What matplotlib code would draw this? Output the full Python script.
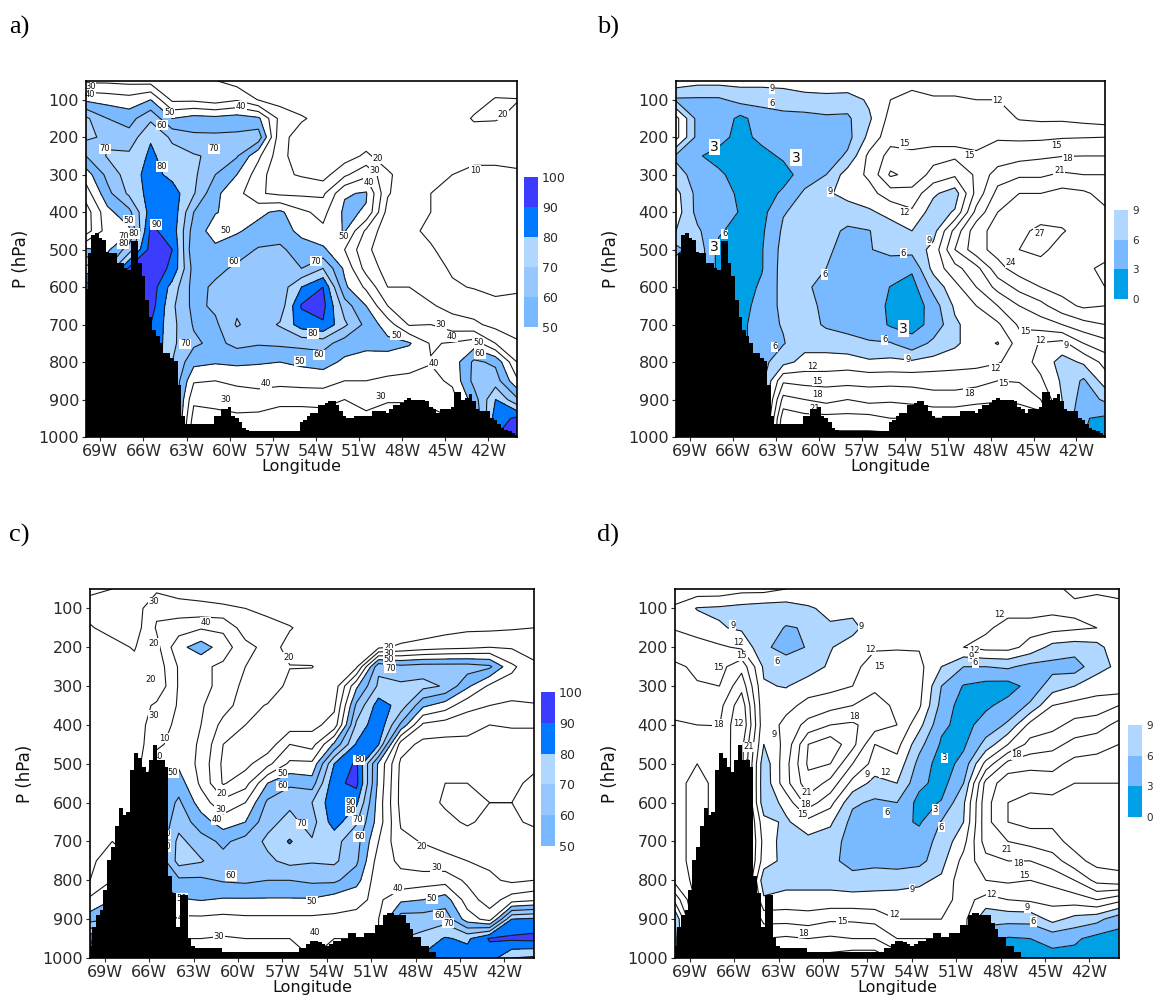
import numpy as np
import matplotlib
matplotlib.use("Agg")
import matplotlib.pyplot as plt

LON = [-70, -68.5, -67, -65.5, -64, -62.5, -61, -59.5, -58, -56.5, -55, -53.5, -52, -50.5, -49, -47.5, -46, -44.5, -43, -41.5, -40]
PRES = [50, 100, 150, 200, 250, 300, 350, 400, 450, 500, 550, 600, 650, 700, 750, 800, 850, 900, 950, 1000]

# one inner list per longitude, top of atmosphere to surface
RH_A = [
 [28,48,72,72,60,45,35,25,25,52,75,95,95,95,95,95,95,95,95,95],
 [28,46,60,68,71,63,57,47,45,48,60,90,95,95,95,95,95,95,95,95],
 [27,44,56,64,72,75,72,57,48,65,92,95,95,95,95,95,95,95,95,95],
 [26,50,68,79,82,84,84,85,92,94,96,96,95,90,90,90,90,90,90,90],
 [25,28,50,68,74,77,85,87,86,90,88,76,72,73,72,70,70,70,70,70],
 [22,28,54,62,71,72,71,60,55,52,56,56,57,59,62,53,41,32,26,20],
 [20.5,25,53,62,68,60,52,50.5,46,52,57,62,62,58,57,51,40,33,27,22],
 [16,29,55,62,61,50,44,47,49,55,62,63,68,71,63,52,42,35,28,22],
 [14,19.5,52,66,42,35,31,48,53,61,63,63,65,65,61,51,43,36,27,22],
 [14,16,27,23,24,22,28,52,55,62,63,64,64,71,62,50,43,33,25,20],
 [14,15,21,16,13,19,28,42,47,55,60,80,91,85,63,52,44,33,25,20],
 [14,14,17,14,13,16,28,37,42,52,70,90,93,89,64,54,44,34,25,20],
 [14,14,14,14,15,28,49,52,51,40,48,52,65,72,55,48,40,30,25,20],
 [14,14,14,14,22,38,51,49,28,22,26,38,50,57,52,47,40,33,28,22],
 [14,14,14,14,14,22,21,16,13,14,16,20,30,45,53,46,38,31,25,20],
 [12,12,12,12,12,13,13,12,11,12,13,20,25,29,51,43,38,31,25,20],
 [12,12,12,12,12,11,10,10,9,10.5,13,16,21,30,39,40.5,37,34,25,20],
 [12,12,12,12,11,10,9,8,7,8,9,11,17,24,41,44,42,36,30,25],
 [12,14,21.5,13,11,9,7,6,6,7,8,9.5,15,22,45,62,63,55,50,45],
 [12,21,21,13,11,9,7,6,6,7,8,8,12,17,30,58,65,80,85,90],
 [12,20.5,17,13,11,9.5,7,6,6,7,8,9.5,11,13,22,30,42,62,92,95],
]
DD_B = [
 [11,5.5,13,13,5.5,7,10,10.5,9,5,8,8,8,8,8,8,8,8,8,8],
 [10,5.5,5,5,3.3,5,5,5,6.5,8,8,8,8,8,8,8,8,8,8,8],
 [10,5.5,5,4,2,3.5,4,4.5,3.5,2,2,2,2,2,2,2,2,2,2,2],
 [10,7,2.2,2,1.5,1.8,2.6,2.8,1.5,1,1.5,1.5,1.5,2,2,2,2,2,2,2],
 [10,7,4.5,3.8,2,1.2,1.3,2,2.5,2.8,2.8,3.5,4.5,5,5,5,5,5,5,5],
 [10,7.5,5,4,3.5,1.7,3.6,5.8,6.5,7,7.2,7,6.6,6.2,5.8,8,14.5,19,23,25],
 [10.5,8,5,4.5,3.6,4.5,6.5,7,7.5,8,8,6.5,7,7.5,8,10,14,18,22,25],
 [11,8,5.5,5,4.3,6,8.5,7.5,7,6.5,6,5,5.3,5.5,8,10,14,17,22,25],
 [11.5,7.5,5.5,5,6.5,10.5,10,7.5,5.5,5,5,4.8,5,5,7,10.5,14,18,22,25],
 [11.5,9.5,8.5,9.8,12.8,12.5,11,8.5,5.9,5.9,5.9,5,4.5,5,6.2,9.5,14,17,22,25],
 [11,12,13,14,16,18.5,13.5,10,7.5,6.5,5,2.9,2.5,2.6,6.2,9.8,14,17.5,21,25],
 [11,13,12.5,13,16,17,14,11.5,9,7,3.5,1.8,1,2,4,9.5,14,17,21,25],
 [10,12.5,13,14,16,14,9.5,7.5,7.8,10,10,7,4.5,3.8,6.8,10,14,16,21,25],
 [10,12.5,14,14.5,15.5,12.5,7.5,9.3,16,18,14,11,9.5,8.5,8.5,10.5,14,16,21,25],
 [10,12,13,14.5,15.2,15.5,16,19,23,23,17,15,12,10.5,10.5,11,14,17,21,25],
 [10,12,13.5,14.8,16,19.5,22,24,25,25,23,19,15,11.5,8.8,11.7,15,17.5,21,25],
 [10,10,11.8,14.5,17,20.5,24,25,26.5,27,25.5,22,18,15.5,13.5,13.5,14.8,17,21,25],
 [10,10,11.5,14.5,17.5,20.5,24,26,27.5,27.3,26.5,24,20,16.5,11.8,11,12.5,15,20,25],
 [10,10,11.5,14.8,17.9,21.5,25,26.5,27.1,26.5,26,25,23,18,11,7.8,8.5,9,9,9],
 [10,10,11,14.9,18,21,24.5,26.5,26.5,27,26.5,26.5,24.5,20,15,9.5,5.5,4.5,3.2,3],
 [10,10,10.5,15,18,21,23,24.5,25.5,26,27.5,27,24,21,17,13,10.5,6.5,2.5,1],
]
RH_C = [
 [21,18,20.5,25,26,27,27,27,27,27,27,28,28,28,28,30,42,55,90,95],
 [20,15,18,22,25,27,27,27,27,27,27,29,30,30,35,40,50,60,70,80],
 [20,15,15,19.5,22,24,24,24,24,24,30,30,30,30,30,30,30,30,30,30],
 [18,28,31,27,24,22,32,36,38,45,50,50,50,50,50,50,50,50,50,50],
 [15,25,35,47,41,41,41,42,44,48,55,62,66,73,74,58,49,38,30,25],
 [15,23,39,55,42,43,41,40,39,37,38,45,55,64,71,58,50.5,38,30,25],
 [13,22,38,45,38,37,34,27,20,18,19,33,45,58,63,61,49,37,29,25],
 [13,20,25,33,30,27,25,20,17,17,26,40,50,64,65,62,49,38,30,25],
 [12,17,24,27,28,29,19,15,14,27,50,62,67,72,68,60,49,38,30,25],
 [11,12,21,15,20.5,16,14,15,30,42,58,68,73,81,73,60,49,38,30,25],
 [11,13,14,12,20.5,13,14,17,26,42,55,70,66,71,71,62,49,38,38,30],
 [11,12,13,12,12,14,18,24,52,80,87,87,85,73,72,62,45,38,30,25],
 [11,11,12,12,18,48,62,72,81,92,93,82,71,64,62,54,42,38,30,25],
 [11,11,12,18,68,72,85,88,80.5,48,47,45,45,40,35,33,38,40,40,40],
 [11,11,12,22,63,72,76,58,25,18,17,17,19,22,28,33,48,65,70,70],
 [11,11,13,25,65,73,52,28,17,13,13,13,15,19.5,24,35,50,65,73,82],
 [11,12,16,27,65,69,45,25,17,13,10,9,12,16,23,36,55,66,81,85],
 [11,13,18,28,65,52,33,24,17,13,10,9,9,14,20,28,35,45,78,85],
 [11,15,18,30,62,38,30,20,14,12,11,10,12,14,18,22,25,36,91,85],
 [11,16,19,29,42,36,28,21,15,12,11,10,11,13,16,18,35,80,92,70],
 [11,18,20,24,33,37,29,21,15,11,9,8,9,13,16,20,38,82,93,68],
]
DD_D = [
 [14,11.5,11.8,13.5,15.5,16,16.5,18.5,19,19,20,20,20,20,20,19,13,6,5,5],
 [14,8.8,11,13,14.5,15.2,16.5,18,20,21,22,22,22,22,22,22,22,22,22,22],
 [14,8.5,9.3,12.5,14,15,17,17.9,20,20,20,20,20,20,20,20,20,20,20,20],
 [13,8,8.5,11.5,17,20,23,24,22,22,22,22,22,22,22,22,22,22,22,22],
 [13,7.5,7.5,6.5,8.5,9.3,9.5,9.8,9,7,6.8,7,10,11,10.5,7,9.5,14,18,20],
 [12,7.5,5.8,5,7.5,8.8,11,13,13,14,14,10,8.5,7.5,8,8,10,14,18.5,20],
 [12,8.5,6.2,6.2,7.5,10.5,13,16,21,21.5,20,16.5,11,8,7,8,10,13.5,18,20],
 [12,10,8.5,8.8,9.5,11,14,18,23,21,17,13,9.5,7.5,7,8,10,14.5,18.5,22],
 [11.5,10,8,10.5,10.8,12,15,18.5,19,15,11,6.5,5,4.5,4.5,7.5,10,14.5,18,23],
 [11,11,11,11.5,14,14.5,16,16.5,12,10.8,8,5.5,4.5,3.3,5,7.8,10,14,18,23],
 [11,11,11,11.5,15,14,14.5,15,13,11,9,6,4,3.5,4.5,8,10,12,15,20],
 [10.5,10.5,11,11.8,12.8,13,12.5,10,7,5,3.8,2,2.6,4.5,5,8.5,10,12,15,20],
 [10.5,11,11.5,11.8,9,6,5,3.6,2.6,1.5,1.8,3.2,6.2,7,8,9.5,11,12,15,20],
 [10.5,11,11.5,12,6,2.8,1.5,2,2.5,4,6,8.5,9,11,13,14,13,13,13,13],
 [10.5,11,11.5,13,6,2,2.5,4.2,7,13,19,20,20,19.5,17,15,11,6.5,5,5],
 [10.5,11,13,13,6.5,1.8,4,6.5,12,19,23,24,24,21,18,15.5,12,7,2.7,2],
 [10,11,13,11,5,4,6.5,13,16,20,23,25,25,22,18,15,12.5,7,3,2],
 [11.5,11.5,13,8,5,7.5,12,14,17,20,22.5,25,24.5,23,19.5,16,13,10,4,2],
 [12.5,11.5,12.5,7.5,4.5,9,13,16,19,22,24,25,25,25,23,18,13.5,8,3.5,2],
 [12.2,11.5,12,8,8,10.5,13.5,16.5,20,22,24,25,25,25,25,22,15,7,2,2.8],
 [12.5,11.5,12,11,9.6,10,15,19,21,22,24,25,25,25,25,23,13,4,2,2.3],
]

# surface pressure every 0.25 degree of longitude from 70W to 40W
TERRAIN_AB = [606,510,460,455,470,473,505,509,509,535,535,550,555,478,478,535,570,635,680,715,730,750,775,775,790,797,860,945,
 965,965,965,965,965,965,965,965,945,945,925,925,920,945,950,960,975,980,985,985,985,985,985,985,985,985,985,985,985,985,985,985,
 960,955,945,935,935,915,915,910,905,905,915,930,945,950,950,945,945,945,945,945,930,930,930,930,935,925,915,915,910,900,895,900,
 900,900,900,905,920,925,935,925,925,925,920,880,880,900,895,885,905,925,930,930,930,950,955,965,975,980,985,990,995]
TERRAIN_CD = [970,919,889,876,824,747,713,661,614,631,623,516,471,486,507,520,490,451,490,490,507,790,833,919,837,837,949,970,
 974,974,974,974,974,974,974,985,985,985,985,985,985,985,985,985,985,985,985,985,985,985,985,985,985,985,985,
 974,974,965,957,957,960,965,970,965,957,957,952,952,935,935,945,945,935,935,935,915,915,890,885,885,890,890,890,910,925,945,945,
 970,970,985,985,997,1000,1000,1000,1000,1000,1000,1000,1000,1000,1000,1000,1000,1000,1000,1000,1000,1000,1000,1000,1000,1000,1000,1000,1000,1000]

LEVELS_RH = [50, 60, 70, 80, 90, 100]
LEVELS_DD = [0, 3, 6, 9]
COLORS_RH = ["#78b9ff", "#96c8ff", "#afd7ff", "#0078ff", "#3c3cff"]
COLORS_DD = ["#00a0e6", "#78b9ff", "#afd7ff"]
LINES_RH = [10, 20, 30, 40, 50, 60, 70, 80, 90]
LINES_DD = [3, 6, 9, 12, 15, 18, 21, 24, 27]

LABELS_A = [("50",-64.2,135),("60",-64.7,168),("70",-68.7,231),("70",-61.1,231),("80",-64.7,278),("50",-67,422),("90",-65.1,433),
 ("80",-66.65,457),("70",-67.4,464),("80",-67.4,484),("50",-60.3,449),("60",-59.7,533),("70",-54,531),("80",-54.2,724),("60",-53.8,781),
 ("50",-55.1,798),("50",-48.4,728),("50",-52.1,464),("70",-63.1,751),("40",-57.5,858),("30",-60.3,900),("30",-49.5,891),("40",-45.8,804),
 ("40",-44.5,733),("30",-45.3,700),("50",-42.7,747),("60",-42.6,777),("10",-42.9,289),("20",-41,140),("20",-49.7,258),("30",-49.9,289),
 ("40",-50.3,320),("40",-59.2,118),("30",-69.7,65),("40",-69.7,87)]
LABELS_B = [("6",-66.6,458),("6",-63.3,109),("9",-63.3,71),("6",-63.1,759),("6",-59.6,566),("6",-54.1,509),("6",-55.4,741),("9",-59.2,346),
 ("9",-53.8,793),("9",-52.3,475),("9",-42.7,755),("12",-47.5,102),("15",-54,218),("15",-49.5,249),("15",-43.4,222),("18",-42.6,257),
 ("21",-43.2,290),("24",-46.6,534),("27",-44.6,457),("12",-54,400),("15",-45.6,719),("12",-44.5,742),("12",-60.5,811),("12",-47.7,816),
 ("15",-60.1,851),("15",-47.1,857),("18",-60.1,887),("18",-49.5,884),("21",-60.3,925)]
BIG_B = [("3",-67.3,226),("3",-61.6,255),("3",-67.3,493),("3",-54.1,711)]
LABELS_C = [("30",-65.7,83),("40",-62.2,136),("20",-65.7,190),("20",-65.9,282),("30",-65.7,376),("20",-56.6,226),("10",-65,434),("40",-65.4,480),
 ("50",-64.4,523),("20",-61.1,577),("30",-61.2,617),("40",-61.4,644),("50",-57,524),("60",-57,557),("70",-55.7,655),("80",-51.8,490),
 ("90",-52.4,600),("80",-52.4,621),("70",-51.9,644),("60",-51.8,687),("20",-49.8,200),("30",-49.8,216),("50",-49.8,232),("70",-49.7,254),
 ("60",-60.5,788),("50",-55,854),("30",-61.3,944),("40",-54.8,934),("40",-49.2,822),("50",-46.9,848),("60",-46.4,890),("70",-45.8,910),
 ("20",-47.6,713),("30",-46.6,767),("50",-63.8,846),("70",-64.9,713),("70",-64.9,680),("40",-63.7,895)]
LABELS_D = [("9",-66.1,143),("12",-65.7,187),("15",-65.5,222),("15",-67.1,253),("18",-67.1,399),("12",-65.7,397),("21",-65,456),("9",-65.1,500),
 ("6",-65.1,520),("6",-63.1,236),("9",-57.4,147),("9",-63.3,425),("12",-56.8,206),("15",-56.2,249),("18",-57.9,379),("21",-61.1,573),
 ("18",-61.2,605),("15",-61.4,630),("9",-57,528),("12",-55.8,523),("6",-55.7,625),("3",-51.8,485),("3",-52.4,618),("6",-52,663),("9",-54,823),
 ("12",-48.6,836),("18",-46.9,477),("21",-47.6,720),("18",-46.8,757),("15",-46.4,787),("12",-49.8,209),("9",-50,224),("6",-49.7,239),
 ("12",-48.1,115),("9",-46.2,870),("6",-45.8,906),("12",-55.2,888),("15",-58.7,905),("18",-61.3,936)]

W, H = 1158, 996
XTICKS = list(range(-69, -41, 3))
YTICKS = list(range(100, 1001, 100))
TEXT = "#2a2a2a"

fig = plt.figure(figsize=(W / 100, H / 100), dpi=100)


def rect(l, t, r, b):
    return [l / W, 1 - b / H, (r - l) / W, (b - t) / H]


def panel(box, cbox, grid, terrain, levels, colors, lines, labels, letter, letter_xy, big=()):
    ax = fig.add_axes(rect(*box))
    z = np.array(grid, dtype=float).T
    cf = ax.contourf(LON, PRES, z, levels=levels, colors=colors, zorder=1)
    ax.contour(LON, PRES, z, levels=lines, colors="#1a1a1a", linewidths=0.8, zorder=2)
    for txt, lon, p in labels:
        ax.text(lon, p, txt, fontsize=6, ha="center", va="center", color="#111111", zorder=3,
                bbox=dict(facecolor="white", edgecolor="none", pad=0.5))
    for txt, lon, p in big:
        ax.text(lon, p, txt, fontsize=10, ha="center", va="center", color="#111111", zorder=3,
                bbox=dict(facecolor="white", edgecolor="none", pad=1.0))
    lon_t = np.linspace(-70, -40, len(terrain))
    ax.fill_between(lon_t, terrain, 1000, step="mid", color="black", lw=0, zorder=4)
    ax.set_xlim(-70, -40)
    ax.set_ylim(1000, 50)
    ax.set_xticks(XTICKS)
    ax.set_xticklabels([f"{-v}W" for v in XTICKS])
    ax.set_yticks(YTICKS)
    ax.tick_params(labelsize=11.5, length=3, width=0.8, colors=TEXT, pad=2)
    ax.set_xlabel("Longitude", fontsize=11.5, labelpad=0, color="#111111")
    ax.set_ylabel("P (hPa)", fontsize=12, labelpad=6, color="#111111")
    for s in ax.spines.values():
        s.set_linewidth(1.2)
        s.set_zorder(6)
    cax = fig.add_axes(rect(*cbox))
    cb = fig.colorbar(cf, cax=cax, ticks=levels)
    cb.outline.set_visible(False)
    cax.tick_params(length=0, labelsize=9 if levels is LEVELS_RH else 7.5, colors=TEXT, pad=3)
    fig.text(letter_xy[0] / W, 1 - letter_xy[1] / H, letter, fontsize=19, family="Liberation Serif",
             ha="left", va="center", color="black")


panel((86, 81, 517, 437), (524, 177, 538, 327), RH_A, TERRAIN_AB, LEVELS_RH, COLORS_RH, LINES_RH, LABELS_A, "a)", (9, 27))
panel((676, 81, 1105, 437), (1114, 210, 1128, 299), DD_B, TERRAIN_AB, LEVELS_DD, COLORS_DD, LINES_DD, LABELS_B, "b)", (597, 27), BIG_B)
panel((90, 589, 534, 958), (541, 692, 555, 846), RH_C, TERRAIN_CD, LEVELS_RH, COLORS_RH, LINES_RH, LABELS_C, "c)", (9, 535))
panel((675, 589, 1119, 958), (1128, 725, 1142, 817), DD_D, TERRAIN_CD, LEVELS_DD, COLORS_DD, LINES_DD, LABELS_D, "d)", (597, 535))

fig.savefig("out.png", dpi=100)
